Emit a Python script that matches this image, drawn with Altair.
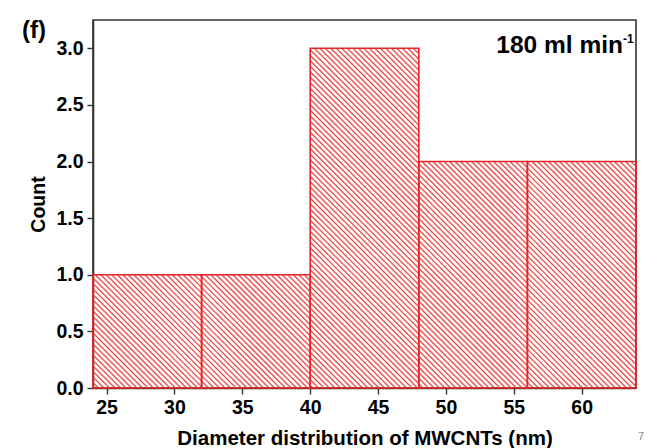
import altair as alt
import pandas as pd
import numpy as np

# ---- data ----
bin_start = [24, 32, 40, 48, 56]
bin_end = [32, 40, 48, 56, 64]
counts = [1, 1, 3, 2, 2]

x_ticks = [25, 27.5, 30, 32.5, 35, 37.5, 40, 42.5, 45, 47.5, 50, 52.5, 55, 57.5, 60, 62.5]
y_ticks = [0, 0.25, 0.5, 0.75, 1.0, 1.25, 1.5, 1.75, 2.0, 2.25, 2.5, 2.75, 3.0]
x_dom = [24, 64]
y_dom = [0, 3.25]

W, H = 543, 368
FONT = "Liberation Sans"
RED = "#e82626"
HATCH = "#ef4848"

bars = pd.DataFrame({"x0": bin_start, "x1": bin_end, "count": counts})

# ---- hatch segments derived from the bars (45 degree "\" lines in pixel space) ----
kx = W / (x_dom[1] - x_dom[0])
ky = H / (y_dom[1] - y_dom[0])
step = 5.5
segs = []
for a, b, h in zip(bin_start, bin_end, counts):
    X0, X1, Hb = (a - x_dom[0]) * kx, (b - x_dom[0]) * kx, h * ky
    k0 = int(np.floor(X0 / step))
    k1 = int(np.ceil((X1 + Hb) / step))
    for k in range(k0, k1 + 1):
        c = k * step
        xs = max(X0, c - Hb)
        xe = min(X1, c)
        if xe - xs > 0.8:
            segs.append({
                "xa": x_dom[0] + xs / kx, "ya": (c - xs) / ky,
                "xb": x_dom[0] + xe / kx, "yb": (c - xe) / ky,
            })
hatch = pd.DataFrame(segs)

xscale = alt.Scale(domain=x_dom, nice=False, zero=False)
yscale = alt.Scale(domain=y_dom, nice=False, zero=False)

xaxis = alt.Axis(
    values=x_ticks,
    labelExpr="datum.value % 5 === 0 ? datum.value : ''",
    tickSize={"condition": {"test": "datum.value % 5 === 0", "value": 6}, "value": 3},
    title="Diameter distribution of MWCNTs (nm)",
    grid=False,
)
yaxis = alt.Axis(
    values=y_ticks,
    labelExpr="datum.value % 0.5 === 0 ? format(datum.value, '.1f') : ''",
    tickSize={"condition": {"test": "datum.value % 0.5 === 0", "value": 6}, "value": 3},
    title="Count",
    grid=False,
)

hatch_layer = alt.Chart(hatch).mark_rule(color=HATCH, strokeWidth=1.25).encode(
    x=alt.X("xa:Q", scale=xscale, axis=xaxis),
    y=alt.Y("ya:Q", scale=yscale, axis=yaxis),
    x2="xb:Q",
    y2="yb:Q",
)

bar_layer = alt.Chart(bars).mark_rect(
    fill="transparent", stroke=RED, strokeWidth=1.6
).encode(
    x=alt.X("x0:Q", scale=xscale),
    x2="x1:Q",
    y=alt.Y("count:Q", scale=yscale),
    y2=alt.datum(0),
)

label_f = alt.Chart(pd.DataFrame({"t": ["(f)"]})).mark_text(
    font=FONT, fontSize=24, fontWeight="bold", align="left", baseline="middle", color="black"
).encode(x=alt.value(-71), y=alt.value(11), text="t:N")

label_rate = alt.Chart(pd.DataFrame({"t": ["180 ml min"]})).mark_text(
    font=FONT, fontSize=24.5, fontWeight="bold", align="right", baseline="alphabetic", color="black"
).encode(x=alt.value(530), y=alt.value(33), text="t:N")

label_sup = alt.Chart(pd.DataFrame({"t": ["-1"]})).mark_text(
    font=FONT, fontSize=12, fontWeight="bold", align="left", baseline="alphabetic", color="black"
).encode(x=alt.value(530), y=alt.value(23), text="t:N")

label_page = alt.Chart(pd.DataFrame({"t": ["7"]})).mark_text(
    font=FONT, fontSize=11, align="center", baseline="middle", color="#8a8a8a"
).encode(x=alt.value(548), y=alt.value(417), text="t:N")

chart = alt.layer(hatch_layer, bar_layer, label_f, label_rate, label_sup, label_page).properties(
    width=W, height=H,
    autosize=alt.AutoSizeParams(type="none"),
    padding={"left": 93, "top": 20, "right": 21, "bottom": 60},
).configure_view(
    stroke="#333333", strokeWidth=1.6
).configure_axis(
    domainColor="#333333", domainWidth=1.6,
    tickColor="#333333", tickWidth=1.4,
    labelFont=FONT, labelFontSize=19.5, labelFontWeight="bold", labelColor="black",
    titleFont=FONT, titleFontWeight="bold", titleColor="black",
).configure_axisX(
    labelPadding=4, titleFontSize=20.5, titlePadding=12,
).configure_axisY(
    labelPadding=4, titleFontSize=19.5, titlePadding=7,
)

chart.save("out.html", embed_options={"renderer": "svg", "actions": False})
